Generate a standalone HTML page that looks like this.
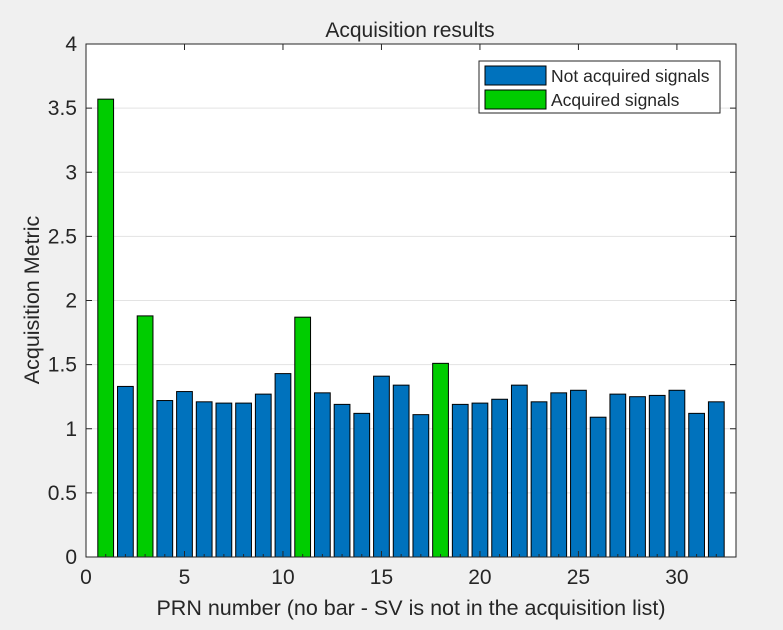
<!DOCTYPE html>
<html><head><meta charset="utf-8"><style>
body{margin:0;background:#f0f0f0;font-family:"Liberation Sans",sans-serif;}
svg text{font-family:"Liberation Sans",sans-serif;fill:#262626;}
</style></head><body>
<svg id="c" width="783" height="625">
<rect x="86" y="44" width="650" height="513" fill="#fff"/>
<g id="grid"></g><g id="bars"></g><g id="axes"></g>
<text x="410" y="37" font-size="21" text-anchor="middle" fill="#000">Acquisition results</text>
<text x="411" y="615" font-size="21.5" text-anchor="middle">PRN number (no bar - SV is not in the acquisition list)</text>
<text transform="translate(39,300) rotate(-90)" font-size="21.5" text-anchor="middle">Acquisition Metric</text>
<g>
<rect x="479" y="61" width="241" height="52" fill="#fff" stroke="#262626" stroke-width="1"/>
<g><rect x="485" y="66" width="61" height="19" fill="#0072bd" stroke="#000"/><text x="551" y="82" font-size="17.5" fill="#000">Not acquired signals</text></g>
<g><rect x="485" y="90" width="61" height="19" fill="#00cc00" stroke="#000"/><text x="551" y="106" font-size="17.5" fill="#000">Acquired signals</text></g>
</g>
</svg>
<script>
const prns=[1,2,3,4,5,6,7,8,9,10,11,12,13,14,15,16,17,18,19,20,21,22,23,24,25,26,27,28,29,30,31,32];
const metric=[3.57,1.33,1.88,1.22,1.29,1.21,1.20,1.20,1.27,1.43,1.87,1.28,1.19,1.12,1.41,1.34,1.11,1.51,1.19,1.20,1.23,1.34,1.21,1.28,1.30,1.09,1.27,1.25,1.26,1.30,1.12,1.21];
const acquired=[1,3,11,18];
const xTicks=[0,5,10,15,20,25,30];
const yTicks=[0,0.5,1,1.5,2,2.5,3,3.5,4];
const X0=86,X1=736,Y0=557,Y1=44,XMAX=33,YMAX=4;
const sx=v=>X0+(X1-X0)*v/XMAX, sy=v=>Y0-(Y0-Y1)*v/YMAX;
const NS="http://www.w3.org/2000/svg";
function mk(t,a,p){const e=document.createElementNS(NS,t);for(const k in a)e.setAttribute(k,a[k]);p.appendChild(e);return e;}
const grid=document.getElementById('grid'),bars=document.getElementById('bars'),axes=document.getElementById('axes');
yTicks.forEach(v=>{if(v>0&&v<YMAX){const l=mk('line',{x1:X0,x2:X1,y1:sy(v),y2:sy(v),stroke:'#e3e3e3'},grid);

}});
const bw=0.8*(X1-X0)/XMAX;
prns.forEach((p,i)=>{const acq=acquired.includes(p);
const r=mk('rect',{x:sx(p)-bw/2,y:sy(metric[i]),width:bw,height:sy(0)-sy(metric[i]),fill:acq?'#00cc00':'#0072bd',stroke:'#000','stroke-width':1},bars);

});
mk('rect',{x:X0,y:Y1,width:X1-X0,height:Y0-Y1,fill:'none',stroke:'#262626'},axes);
xTicks.forEach(v=>{mk('line',{x1:sx(v),x2:sx(v),y1:Y0,y2:Y0-6,stroke:'#262626'},axes);mk('line',{x1:sx(v),x2:sx(v),y1:Y1,y2:Y1+6,stroke:'#262626'},axes);
const t=mk('text',{x:sx(v),y:Y0+27,'font-size':21,'text-anchor':'middle'},axes);t.textContent=v;

});
for(let v=1;v<XMAX;v++){if(v%5)mk('line',{x1:sx(v),x2:sx(v),y1:Y0,y2:Y0-3,stroke:'#262626'},axes);}
yTicks.forEach(v=>{mk('line',{x1:X0,x2:X0+6,y1:sy(v),y2:sy(v),stroke:'#262626'},axes);mk('line',{x1:X1,x2:X1-6,y1:sy(v),y2:sy(v),stroke:'#262626'},axes);
const t=mk('text',{x:X0-9,y:sy(v)+7,'font-size':21,'text-anchor':'end'},axes);t.textContent=v;

});
</script>
</body></html>
